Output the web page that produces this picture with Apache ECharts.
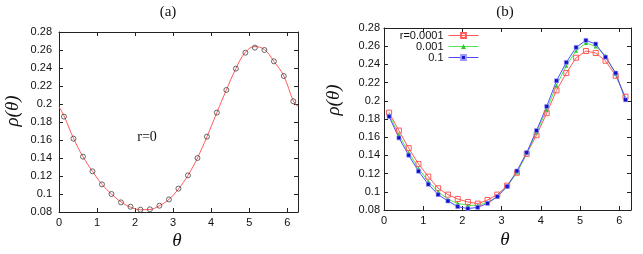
<!DOCTYPE html>
<html><head><meta charset="utf-8">
<script src="https://cdn.jsdelivr.net/npm/echarts@6/dist/echarts.min.js"></script>
<style>html,body{margin:0;padding:0;background:#fff}#c{width:643px;height:254px}</style>
</head><body><div id="c"></div>
<script>
// ---- data ----
const theta = [0.13,0.38,0.63,0.88,1.13,1.38,1.63,1.88,2.14,2.39,2.64,2.89,3.14,3.39,3.64,3.89,4.15,4.40,4.65,4.90,5.15,5.40,5.65,5.91,6.16];
// panel (a): r=0 simulation points
const rhoA = [0.186,0.1615,0.1415,0.1252,0.1107,0.100,0.0907,0.0859,0.0826,0.083,0.087,0.094,0.106,0.1207,0.140,0.1637,0.1904,0.2156,0.2393,0.257,0.2626,0.260,0.2474,0.2311,0.203];
// panel (a): smooth theory curve
const curveTheta = [0,0.13,0.38,0.63,0.88,1.13,1.38,1.63,1.88,2.14,2.39,2.64,2.89,3.14,3.39,3.64,3.89,4.15,4.40,4.65,4.90,5.15,5.40,5.65,5.91,6.16,6.2832];
const curveRho = [0.197,0.187,0.162,0.1415,0.1252,0.1107,0.100,0.0912,0.0855,0.0825,0.0828,0.087,0.094,0.1055,0.1207,0.140,0.1637,0.1904,0.2156,0.2393,0.2575,0.2638,0.2605,0.2474,0.2311,0.2035,0.197];
// panel (b)
const rhoR1 = [0.187,0.1673,0.148,0.1306,0.1167,0.1039,0.0969,0.0921,0.0888,0.087,0.091,0.0969,0.1068,0.121,0.1417,0.1622,0.1864,0.2114,0.2305,0.2473,0.2547,0.2525,0.244,0.2275,0.2044];
const rhoR2 = [0.1846,0.1626,0.1431,0.1259,0.1112,0.1002,0.0917,0.0873,0.0851,0.0851,0.0884,0.0947,0.1057,0.1211,0.1424,0.1651,0.1901,0.2169,0.2385,0.2551,0.2635,0.2598,0.2495,0.2297,0.2018];
const rhoR3 = [0.1827,0.1593,0.1402,0.1226,0.1083,0.0969,0.0899,0.0837,0.0815,0.0829,0.0873,0.0947,0.106,0.1229,0.1431,0.1673,0.1938,0.222,0.2422,0.2587,0.2664,0.2624,0.248,0.2305,0.2011];
const seriesNames = ['r=0.0001','0.001','0.1'];
const xTicks = {min:0, interval:1};
const yTicks = {min:0.08, max:0.28, interval:0.02};

const zip = (xs, ys) => xs.map((x,i)=>[x, ys[i]]);

const sans = 'Liberation Sans, Arial, sans-serif';
const serif = 'Liberation Serif, Times New Roman, serif';
const frame = '#222';

function xAx(grid, max, bottom, margin){
  return {type:'value', gridIndex:grid, min:xTicks.min, max:max, interval:xTicks.interval,
    position: bottom?'bottom':'top',
    axisLine:{show:true, onZero:false, lineStyle:{color:frame, width:1}},
    axisTick:{show:true, inside:true, length:4, lineStyle:{color:frame}},
    axisLabel:{show:bottom, margin:margin, fontFamily:sans, fontSize:11, color:'#111', showMaxLabel:false},
    splitLine:{show:false}};
}
function yAx(grid, left, margin){
  return {type:'value', gridIndex:grid, min:yTicks.min, max:yTicks.max, interval:yTicks.interval,
    position: left?'left':'right',
    axisLine:{show:true, onZero:false, lineStyle:{color:frame, width:1}},
    axisTick:{show:true, inside:true, length:4, lineStyle:{color:frame}},
    axisLabel:{show:left, margin:margin, fontFamily:sans, fontSize:11, color:'#111'},
    splitLine:{show:false}};
}

const colR = '#ff5a5a', colG = '#4ee84e', colB = '#4a4aff';
const clear = 'rgba(255,255,255,0)';

function legendFor(name, top){
  return {data:[name], orient:'vertical', align:'right', right:164, top:top, padding:0,
    itemWidth:30, itemHeight:6, lineStyle:{width:1},
    textStyle:{fontFamily:sans, fontSize:11, color:'#111'}};
}

const chart = echarts.init(document.getElementById('c'), null, {renderer:'canvas'});
chart.setOption({
  animation:false,
  grid:[
    {left:59, right:345, top:32, bottom:42},
    {left:384, right:12, top:28, bottom:44}
  ],
  xAxis:[xAx(0,6.2832,true,5), xAx(0,6.2832,false,0), xAx(1,6.3,true,5), xAx(1,6.3,false,0)],
  yAxis:[yAx(0,true,7), yAx(0,false,0), yAx(1,true,4), yAx(1,false,0)],
  legend:[legendFor(seriesNames[0],30), legendFor(seriesNames[1],41), legendFor(seriesNames[2],52)],
  series:[
    {type:'line', xAxisIndex:0, yAxisIndex:0, data:zip(curveTheta, curveRho), smooth:0.4, showSymbol:false,
      lineStyle:{color:colR, width:1}, z:2},
    {type:'scatter', xAxisIndex:0, yAxisIndex:0, data:zip(theta, rhoA), symbol:'circle', symbolSize:5,
      itemStyle:{color:clear, borderColor:'#444', borderWidth:1}, z:3},
    {name:seriesNames[0], type:'line', xAxisIndex:2, yAxisIndex:2, data:zip(theta, rhoR1), symbol:'rect', symbolSize:5,
      lineStyle:{color:colR, width:1}, itemStyle:{color:clear, borderColor:colR, borderWidth:1}},
    {name:seriesNames[1], type:'line', xAxisIndex:2, yAxisIndex:2, data:zip(theta, rhoR2), symbol:'triangle', symbolSize:4,
      lineStyle:{color:colG, width:1}, itemStyle:{color:'#2fc42f'}},
    {name:seriesNames[2], type:'line', xAxisIndex:2, yAxisIndex:2, data:zip(theta, rhoR3), symbol:'rect', symbolSize:4,
      lineStyle:{color:colB, width:1}, itemStyle:{color:'#1010c8', borderColor:'#9a9aff', borderWidth:0.6}}
  ],
  graphic:[
    {type:'text', style:{text:'(a)', font:'15px '+serif, fill:'#111', textAlign:'center', textVerticalAlign:'middle'}, position:[168,12]},
    {type:'text', style:{text:'(b)', font:'15px '+serif, fill:'#111', textAlign:'center', textVerticalAlign:'middle'}, position:[505,12]},
    {type:'text', style:{text:'r=0', font:'14px '+serif, fill:'#111', textAlign:'center', textVerticalAlign:'middle'}, position:[147,137]},
    {type:'text', style:{text:'θ', font:'italic 19px '+serif, fill:'#111', textAlign:'center', textVerticalAlign:'middle'}, position:[177,241]},
    {type:'text', style:{text:'θ', font:'italic 19px '+serif, fill:'#111', textAlign:'center', textVerticalAlign:'middle'}, position:[505,240]},
    {type:'text', rotation:Math.PI/2, style:{text:'ρ(θ)', font:'italic 19px '+serif, fill:'#111', textAlign:'center', textVerticalAlign:'middle'}, position:[13,111]},
    {type:'text', rotation:Math.PI/2, style:{text:'ρ(θ)', font:'italic 19px '+serif, fill:'#111', textAlign:'center', textVerticalAlign:'middle'}, position:[334,100]}
  ]
});
</script></body></html>
